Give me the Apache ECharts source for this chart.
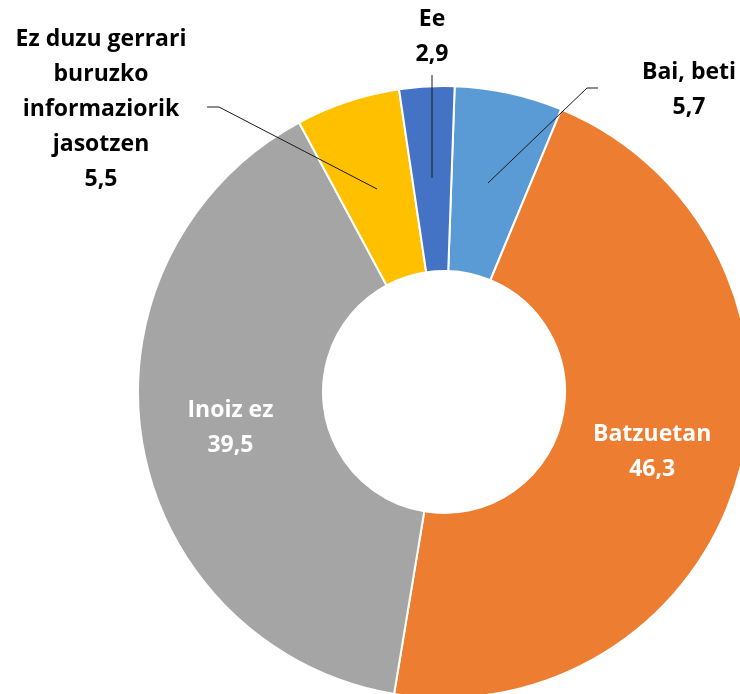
<!DOCTYPE html>
<html>
  <head>
	<meta charset="UTF-8">
	<title></title>
	<script src="https://cdn.jsdelivr.net/npm/echarts@6/dist/echarts.min.js"></script>
	<style type="text/css">
		* {margin: 0; padding: 0;}
		body {background: #fff;}
	</style>
  </head>
  <body>
	<div id="chart" style="width:740px;height:694px"></div>

	<script type="text/javascript">
		// datuak, Excel-eko ordena berean (goian hasi, erlojuaren norantzan)
		var names = ['Bai, beti', 'Batzuetan', 'Inoiz ez', 'Ez duzu gerrari\nburuzko\ninformaziorik\njasotzen', 'Ee'];
		var values = [5.7, 46.3, 39.5, 5.5, 2.9];
		var colors = ['#5B9BD5', '#ED7D31', '#A5A5A5', '#FFC000', '#4472C4'];
		var insideLabel = [false, true, true, false, false];

		// kanpoko etiketen kokapena eta gida-lerroak
		var outsidePos = {
			0: {x: 689, y: 90, line: [[488, 183], [587, 88], [598, 88]]},
			3: {x: 101, y: 109, line: [[377, 189], [219, 107], [207, 107]]},
			4: {x: 432, y: 37, line: [[432, 178], [432, 75]]}
		};

		var chart = echarts.init(document.getElementById('chart'));

		var data = [];
		for (var i = 0; i < names.length; i++) {
			data.push({
				name: names[i],
				value: values[i],
				itemStyle: {color: colors[i]},
				label: {
					position: insideLabel[i] ? 'inside' : 'outside',
					color: insideLabel[i] ? '#fff' : '#000'
				},
				labelLine: {show: false}
			});
		}

		// gida-lerroak xerren gainean marrazteko
		var guides = [];
		for (var k in outsidePos) {
			guides.push({
				type: 'polyline',
				z: 100,
				silent: true,
				shape: {points: outsidePos[k].line},
				style: {stroke: '#1a1a1a', lineWidth: 1, fill: null}
			});
		}

		var option = {
			animation: false,
			graphic: guides,
			series: [{
				type: 'pie',
				center: [444, 392],
				radius: [121, 306],
				startAngle: 88,
				clockwise: true,
				avoidLabelOverlap: false,
				itemStyle: {borderColor: '#fff', borderWidth: 2},
				label: {
					show: true,
					fontFamily: 'Open Sans',
					fontWeight: 'bold',
					fontSize: 23,
					lineHeight: 35,
					align: 'center',
					formatter: function (p) {
						return p.name + '\n' + String(p.value).replace('.', ',');
					}
				},
				labelLayout: function (p) {
					var pos = outsidePos[p.dataIndex];
					if (!pos) {
						return {};
					}
					return {
						x: pos.x,
						y: pos.y,
						align: 'center',
						verticalAlign: 'middle'
					};
				},
				data: data
			}]
		};

		chart.setOption(option);
	</script>
  </body>
</html>
